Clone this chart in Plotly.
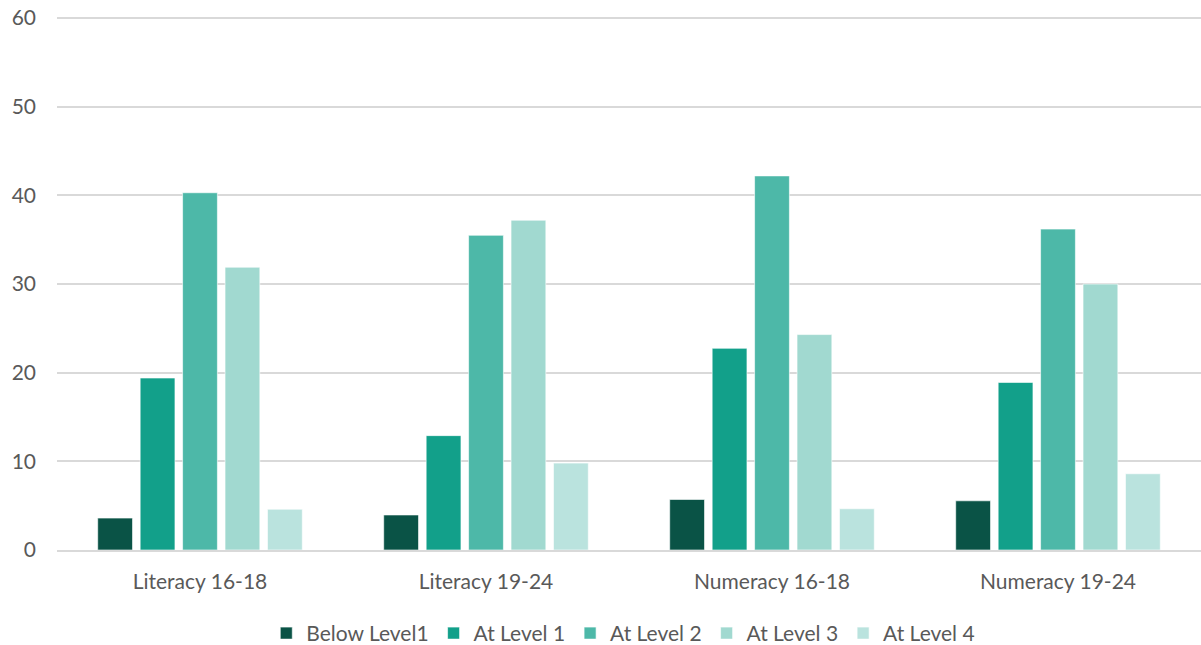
import plotly.graph_objects as go

categories = ["Literacy 16-18", "Literacy 19-24", "Numeracy 16-18", "Numeracy 19-24"]
series_names = ["Below Level1", "At Level 1", "At Level 2", "At Level 3", "At Level 4"]
below_level1 = [3.6, 3.95, 5.7, 5.55]
at_level1 = [19.4, 12.9, 22.75, 18.9]
at_level2 = [40.3, 35.5, 42.2, 36.2]
at_level3 = [31.9, 37.2, 24.3, 30.0]
at_level4 = [4.6, 9.8, 4.65, 8.6]
colors = ["#0A5346", "#12A08A", "#4DB8A8", "#A1D9D0", "#BAE3DE"]
y_ticks = [0, 10, 20, 30, 40, 50, 60]

fig = go.Figure()
for name, vals, col in zip(series_names,
                           [below_level1, at_level1, at_level2, at_level3, at_level4],
                           colors):
    fig.add_trace(go.Bar(x=categories, y=vals, name=name,
                         marker=dict(color=col, line=dict(color="rgba(255,255,255,0.6)", width=1))))

font_family = "Lato, 'Open Sans', sans-serif"
fig.update_layout(
    width=1201, height=645,
    barmode="group", bargap=0.258, bargroupgap=0.18,
    plot_bgcolor="white", paper_bgcolor="white",
    margin=dict(l=57, r=0, t=15, b=95, autoexpand=False),
    font=dict(family=font_family, size=21, color="#595959"),
    xaxis=dict(showgrid=False, showline=True, linecolor="#D9D9D9", linewidth=1.5,
               ticks="", ticklabelstandoff=12, automargin=False,
               tickfont=dict(size=21, color="#595959")),
    yaxis=dict(range=[0, 60.35], tickvals=y_ticks, showgrid=True, gridcolor="#D9D9D9",
               gridwidth=1.5, zeroline=False, showline=False, ticks="", automargin=False,
               ticklabelstandoff=20, tickfont=dict(size=21, color="#595959")),
    legend=dict(orientation="h", x=0.495, xanchor="center", y=-0.156, yanchor="middle",
                font=dict(size=21, color="#595959"), itemwidth=30,
                traceorder="normal"),
)
fig.write_html("out.html", config={"displayModeBar": False},
               post_script="document.body.style.margin='0';document.body.style.overflow='hidden';")
